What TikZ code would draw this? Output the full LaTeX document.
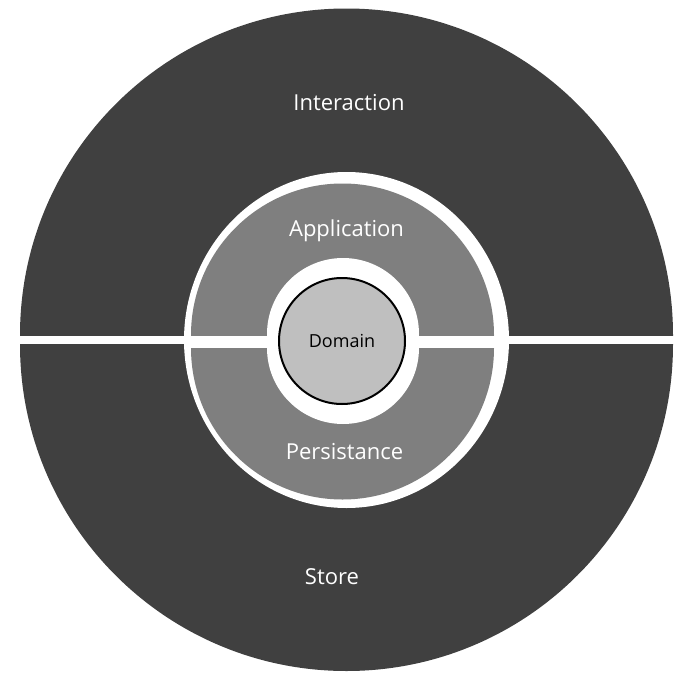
\documentclass[tikz,border=0pt]{standalone}
\usepackage{fontspec}
\setmainfont{Open Sans}
\usetikzlibrary{positioning}
\definecolor{ring}{HTML}{404040}
\definecolor{layer}{HTML}{7F7F7F}
\definecolor{core}{HTML}{BFBFBF}
\tikzset{
  layertext/.style={anchor=base, inner sep=0pt, text=white, font=\fontsize{22}{22}\selectfont},
  coretext/.style={circle, draw=black, line width=2pt, fill=core, minimum size=126pt, inner sep=0pt, font=\fontsize{18}{18}\selectfont}
}
\begin{document}
\begin{tikzpicture}[x=1pt,y=-1pt]
\useasboundingbox (0,0) rectangle (697,678);
\fill[white] (0,0) rectangle (697,678);
% outer ring, two halves
\foreach \c/\e in {335/0, 344.5/678} {
  \begin{scope}
  \clip (0,\c) rectangle (697,\e);
  \fill[ring] (346.5,\c) circle (326.5);
  \end{scope}
}
\fill[white] (346.5,340) ellipse [x radius=162.5, y radius=168];
% middle layer, two halves
\foreach \c/\e in {335/0, 348/678} {
  \begin{scope}
  \clip (0,\c) rectangle (697,\e);
  \fill[layer] (342.5,\c) circle (151.5);
  \end{scope}
}
% white gap round the core
\foreach \c/\e in {334/0, 348/678} {
  \begin{scope}
  \clip (0,\c) rectangle (697,\e);
  \fill[white] (343,\c) circle (76);
  \end{scope}
}
\fill[white] (267,334) rectangle (419,348);
\node[coretext] (domain) at (342,341) {Domain};
\node[layertext] (interaction) at (349,110) {Interaction};
\node[layertext] (application) at (346.5,236) {Application};
\node[layertext] (persistance) at (344.5,459) {Persistance};
\node[layertext] (store) at (332,584) {Store};
\end{tikzpicture}
\end{document}
